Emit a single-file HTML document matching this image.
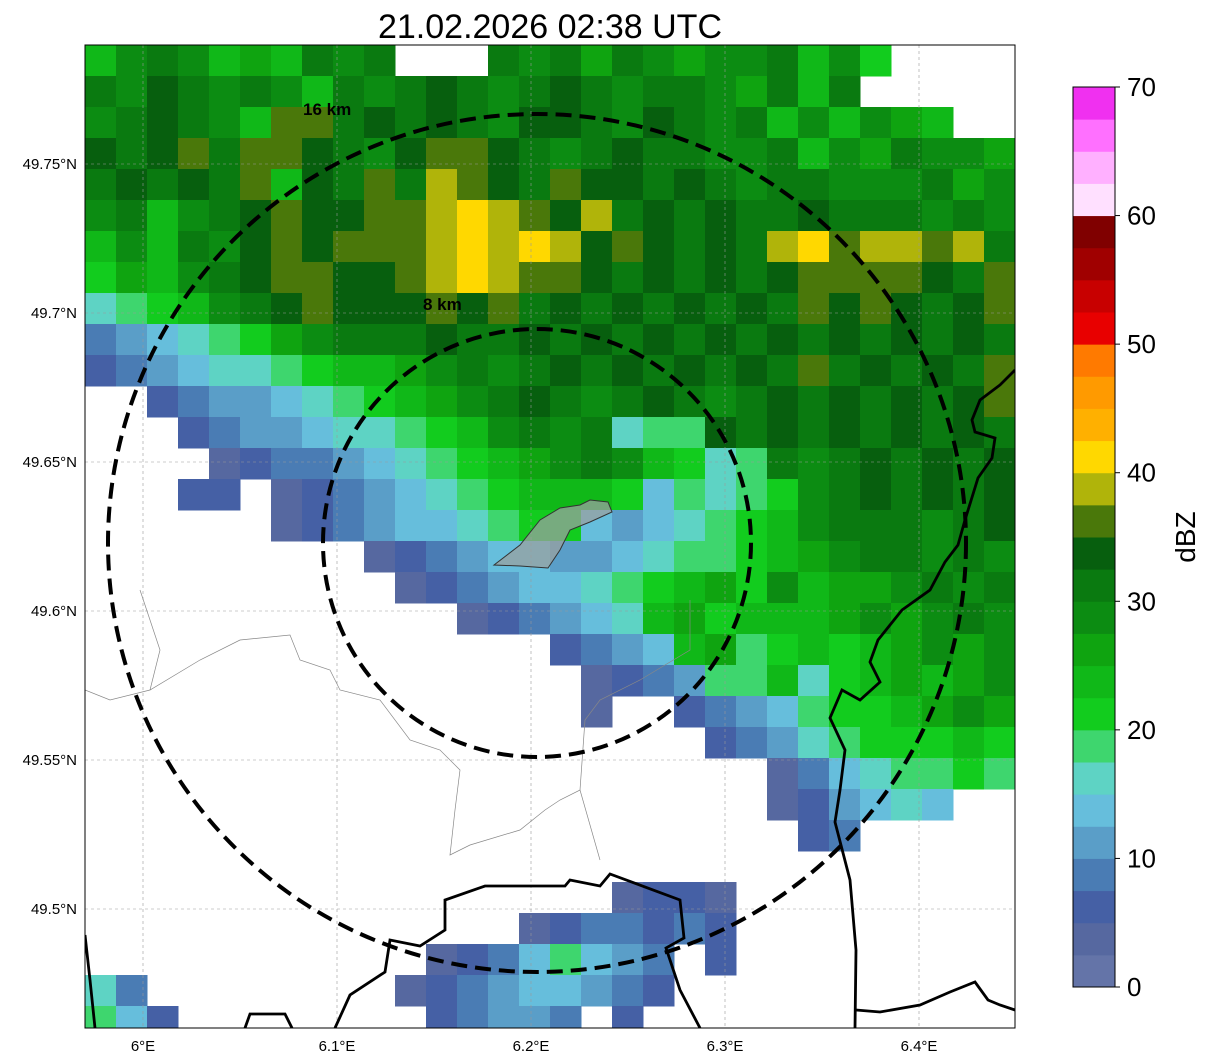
<!DOCTYPE html>
<html><head><meta charset="utf-8">
<style>
html,body{margin:0;padding:0;background:#fff;}
svg{display:block;font-family:"Liberation Sans",sans-serif;}
</style></head>
<body>
<svg id="chart" width="1207" height="1064" viewBox="0 0 1207 1064" xmlns="http://www.w3.org/2000/svg">
<defs><clipPath id="plotclip"><rect x="85" y="45" width="930" height="983"/></clipPath></defs>
<text x="550" y="38" font-size="34" text-anchor="middle">21.02.2026 02:38 UTC</text>
<rect x="85" y="45" width="930" height="983" fill="#fff"/>
<g id="cells" clip-path="url(#plotclip)"></g>
<g id="grid"></g>
<g clip-path="url(#plotclip)">
<polyline fill="none" stroke="#888" stroke-width="0.7" points="85,690 110,700 150,690 200,660 240,640 290,635 300,660 330,670 340,690 380,700 410,740 440,750 460,770 455,810 450,855 470,845 520,830 545,810 560,800 580,790 600,860"/>
<polyline fill="none" stroke="#888" stroke-width="0.7" points="140,590 150,620 160,650 150,690"/>
<polyline fill="none" stroke="#888" stroke-width="0.7" points="580,790 585,720 600,700 640,680 690,650 690,600"/>
<polyline fill="none" stroke="#000" stroke-width="2.8" points="1015,370 1000,385 980,400 972,420 975,432 995,438 992,458 978,478 965,520 958,545 945,562 930,590 902,610 878,640 870,662 880,682 860,700 842,690 830,718 845,750 840,790 835,822 850,880 856,950 855,1028"/>
<polyline fill="none" stroke="#000" stroke-width="2.8" points="856,1010 880,1012 920,1005 950,992 975,982 988,1000 1000,1005 1015,1010"/>
<polyline fill="none" stroke="#000" stroke-width="2.8" points="335,1028 350,995 385,972 390,940 420,946 445,930 445,900 485,886 565,886 570,880 600,886 610,874 680,900 684,938 666,948 680,990 700,1028"/>
<polyline fill="none" stroke="#000" stroke-width="2.8" points="245,1028 250,1014 285,1014 292,1028"/>
<polyline fill="none" stroke="#000" stroke-width="2.8" points="85,935 90,980 95,1028"/>
<polygon fill="#9aa0a0" fill-opacity="0.75" stroke="#333" stroke-width="1" points="494,565 520,545 540,520 560,508 580,505 590,500 608,502 612,512 590,522 570,530 560,550 548,568 520,566"/>
</g>
<g clip-path="url(#plotclip)">
<circle cx="537" cy="543" r="214" fill="none" stroke="#000" stroke-width="4" stroke-dasharray="16,8"/>
<circle cx="537" cy="543" r="429" fill="none" stroke="#000" stroke-width="4" stroke-dasharray="16,8"/>
<text x="303" y="115" font-size="17" font-weight="bold">16 km</text>
<text x="423" y="310" font-size="17" font-weight="bold">8 km</text>
</g>
<rect x="85" y="45" width="930" height="983" fill="none" stroke="#000" stroke-width="1"/>
<g id="ticks"></g>
<g id="cbar"></g>
<text x="1195" y="537" font-size="28" text-anchor="middle" transform="rotate(-90 1195 537)">dBZ</text>
</svg>
<script>
const NS="http://www.w3.org/2000/svg";
const bandColors=["#6474a8","#5668a0","#4560a5","#4a7cb4","#5a9ec8","#66bedc","#5ed3c4","#3ed66e","#12cc1e","#10b818","#0fa410","#0c8c12","#0a7a10","#075f0e","#4a780a","#b0b40a","#ffd800","#ffb000","#ff9a00","#ff7a00","#e80000","#c80000","#a00000","#800000","#ffe0ff","#ffb0ff","#ff70ff","#f030f0"];
const cbTicks=[0,10,20,30,40,50,60,70];
const lonTicks=[6.0,6.1,6.2,6.3,6.4];
const latTicks=[49.75,49.7,49.65,49.6,49.55,49.5];
const latLabels=["49.75°N","49.7°N","49.65°N","49.6°N","49.55°N","49.5°N"];
const lonLabels=["6°E","6.1°E","6.2°E","6.3°E","6.4°E"];
const fieldRows=[
"9bcb9a9cbc...cbcacbabbc9b8....",
"cbdcbcb9cbcdcbcdcbccbac9c.....",
"bcdcb9eecdcdcbddcbdcbc9b9ba9..",
"dcdeceedcbdeedcbcdccbbc9bacbba",
"cdcdce9dcecfedceddcdcbccbbbcab",
"bc9bcdeddeefgfedfcdcdccdcccbcb",
"9b9cbdedeeefgfgfdedcdcfgeffefc",
"8a9bcdeeddefgfeedcdcdcdeeeedce",
"6789bcdedddedecdcdcdcdcededcde",
"345678abcccdccdcdcdcdcdcdcdcdc",
"2345667899abcbcdcdcdcdcecdcdce",
"..234456789abcdcbcdcbcdcdcdcde",
"...2344566789bcbc677dcdcdcdcdc",
"....1233456789abcb9867cbcdcdcd",
"...22.12345678999857678bcdcdcd",
"......12345567885456789bcccbcd",
".........12345544567789abccbcb",
"..........1234556789a8b9aabcbc",
"............1234569a8999ababcb",
"...............23459a78989abab",
"................1234779689a9ab",
"................1..23457889aba",
"....................2346788898",
"......................13567787",
"......................124565..",
".......................23.....",
"..............................",
".................1221.........",
"..............1233232.........",
"...........12357543 2.........",
"63........123455432...........",
"752........23443 2............"
];
const x0=85,y0=45,plotW=930,plotH=983,cell=31;
function lonX(l){return 143+(l-6.0)*1940;}
function latY(l){return 164+(49.75-l)*2980;}
function dbzY(v){return 987-v*(900/70);}
const cells=document.getElementById('cells');
fieldRows.forEach((row,r)=>{
  for(let c=0;c<30;c++){
    const ch=row[c]||'.';
    const idx=parseInt(ch,36);
    if(isNaN(idx))continue;
    const rect=document.createElementNS(NS,'rect');
    rect.setAttribute('x',x0+c*cell);
    rect.setAttribute('y',y0+r*cell);
    rect.setAttribute('width',cell+0.5);
    rect.setAttribute('height',cell+0.5);
    rect.setAttribute('fill',bandColors[Math.min(idx,27)]);
    
    
    cells.appendChild(rect);
  }
});
const grid=document.getElementById('grid');
const ticks=document.getElementById('ticks');
lonTicks.forEach((l,i)=>{
  const x=lonX(l);
  const ln=document.createElementNS(NS,'line');
  ln.setAttribute('x1',x);ln.setAttribute('x2',x);ln.setAttribute('y1',45);ln.setAttribute('y2',1028);
  ln.setAttribute('stroke','#999');ln.setAttribute('stroke-width','0.6');ln.setAttribute('stroke-dasharray','3,3');
  
  
  grid.appendChild(ln);
  const t=document.createElementNS(NS,'text');
  t.setAttribute('x',x);t.setAttribute('y',1051);t.setAttribute('font-size','15');t.setAttribute('text-anchor','middle');
  t.textContent=lonLabels[i];
  
  
  ticks.appendChild(t);
});
latTicks.forEach((l,i)=>{
  const y=latY(l);
  const ln=document.createElementNS(NS,'line');
  ln.setAttribute('x1',85);ln.setAttribute('x2',1015);ln.setAttribute('y1',y);ln.setAttribute('y2',y);
  ln.setAttribute('stroke','#999');ln.setAttribute('stroke-width','0.6');ln.setAttribute('stroke-dasharray','3,3');
  
  
  grid.appendChild(ln);
  const t=document.createElementNS(NS,'text');
  t.setAttribute('x',77);t.setAttribute('y',y+5);t.setAttribute('font-size','15');t.setAttribute('text-anchor','end');
  t.textContent=latLabels[i];
  
  
  ticks.appendChild(t);
});
const cbar=document.getElementById('cbar');
bandColors.forEach((col,i)=>{
  const lo=i*2.5,hi=lo+2.5;
  const r=document.createElementNS(NS,'rect');
  r.setAttribute('x',1073);r.setAttribute('width',42);
  r.setAttribute('y',dbzY(hi));r.setAttribute('height',dbzY(lo)-dbzY(hi)+0.5);
  r.setAttribute('fill',col);
  
  
  cbar.appendChild(r);
});
const fr=document.createElementNS(NS,'rect');
fr.setAttribute('x',1073);fr.setAttribute('y',dbzY(70));fr.setAttribute('width',42);fr.setAttribute('height',dbzY(0)-dbzY(70));
fr.setAttribute('fill','none');fr.setAttribute('stroke','#000');


cbar.appendChild(fr);
cbTicks.forEach(v=>{
  const y=dbzY(v);
  const tk=document.createElementNS(NS,'line');
  tk.setAttribute('x1',1115);tk.setAttribute('x2',1120);tk.setAttribute('y1',y);tk.setAttribute('y2',y);tk.setAttribute('stroke','#000');
  
  
  cbar.appendChild(tk);
  const t=document.createElementNS(NS,'text');
  t.setAttribute('x',1127);t.setAttribute('y',y+9);t.setAttribute('font-size','26');
  t.textContent=v;
  
  
  cbar.appendChild(t);
});
</script>
</body></html>
